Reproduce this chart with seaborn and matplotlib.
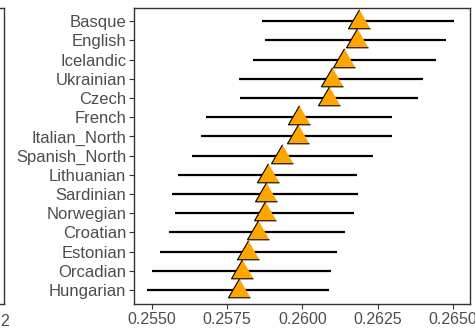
import matplotlib
matplotlib.use("Agg")
import matplotlib.pyplot as plt
import seaborn as sns
import pandas as pd

# Datos
populations = ["Basque", "English", "Icelandic", "Ukrainian", "Czech", "French",
               "Italian_North", "Spanish_North", "Lithuanian", "Sardinian",
               "Norwegian", "Croatian", "Estonian", "Orcadian", "Hungarian"]
estimate = [0.26187, 0.26183, 0.26140, 0.26098, 0.26090, 0.25990, 0.25985,
            0.25934, 0.25885, 0.25879, 0.25876, 0.25853, 0.25821, 0.25800, 0.25789]
lower = [0.25865, 0.25877, 0.25836, 0.25789, 0.25793, 0.25681, 0.25665,
         0.25634, 0.25588, 0.25566, 0.25578, 0.25556, 0.25528, 0.25500, 0.25485]
upper = [0.26504, 0.26477, 0.26443, 0.26402, 0.26384, 0.26297, 0.26299,
         0.26234, 0.26182, 0.26184, 0.26173, 0.26142, 0.26114, 0.26096, 0.26089]
xticks = [0.2550, 0.2575, 0.2600, 0.2625, 0.2650]

df = pd.DataFrame({"pop": populations, "est": estimate, "lo": lower, "hi": upper})

sns.set_theme(style="white")
plt.rcParams["font.family"] = ["Liberation Sans", "DejaVu Sans"]

W, H = 475, 334
fig = plt.figure(figsize=(W / 100, H / 100), dpi=100)
ax = fig.add_axes([134 / W, (H - 304) / H, 336 / W, 296 / H])

# trozo del panel vecino a la izquierda
ax0 = fig.add_axes([-0.1, (H - 304) / H, 0.1 + 3.5 / W, 296 / H])
ax0.set_xticks([])
ax0.set_yticks([])
for s in ax0.spines.values():
    s.set_color("#333333")
    s.set_linewidth(1.0)
fig.text(0.0, (H - 322) / H, "2", fontsize=11.5, color="#4D4D4D", ha="left", va="center")

ax.hlines(df["pop"], df["lo"], df["hi"], color="black", linewidth=1.6, zorder=1)

tri = [(0, 11.7), (-11, -7.3), (11, -7.3)]
sns.scatterplot(data=df, x="est", y="pop", marker=tri, s=284, color="#FFA500",
                edgecolor="black", linewidth=0.8, ax=ax, zorder=2, legend=False)

ax.set_xlim(0.25441, 0.26557)
ax.set_ylim(len(populations) - 1 + 0.72, -0.68)
ax.set_xticks(xticks)
ax.set_xticklabels([f"{v:.4f}" for v in xticks])
ax.set_xlabel("")
ax.set_ylabel("")
ax.tick_params(axis="y", labelsize=12, labelcolor="#4D4D4D", length=3.5, width=0.8,
               color="#333333", left=True, pad=2)
ax.tick_params(axis="x", labelsize=11.5, labelcolor="#4D4D4D", length=3.5, width=0.8,
               color="#333333", bottom=True, pad=2)
for s in ax.spines.values():
    s.set_color("#333333")
    s.set_linewidth(1.0)

fig.savefig("out.png", dpi=100)
